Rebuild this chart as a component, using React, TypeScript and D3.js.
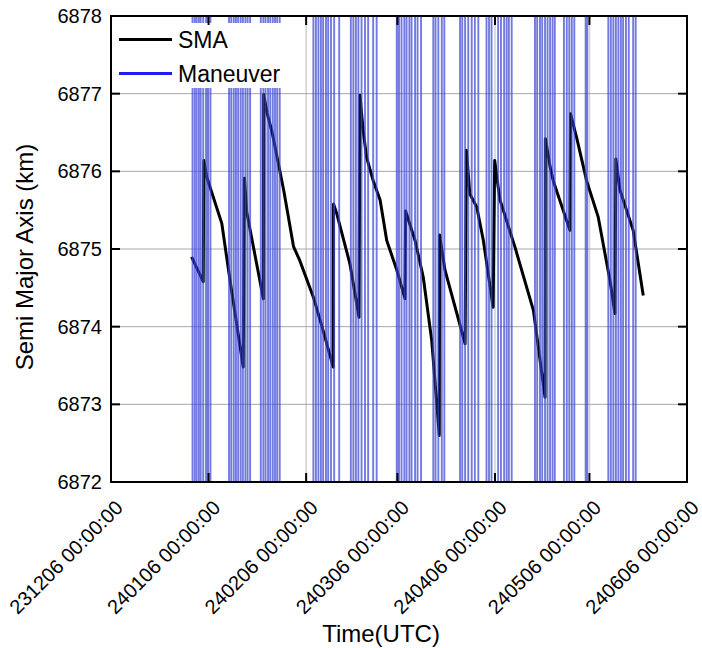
import React from 'react';
import * as d3 from 'd3';

// days counted from 231206 00:00:00 UTC
const startDate = '2023-12-06';
const xTickLabels = ['231206', '240106', '240206', '240306', '240406', '240506', '240606'];
const yTicks = [6872, 6873, 6874, 6875, 6876, 6877, 6878];

const maneuverDays = [
  25.9, 26.6, 27.2, 27.9, 28.5, 29.3, 30.2, 30.8, 31.6,
  37.5, 38.2, 39.0, 39.7, 40.4, 41.2, 41.9, 42.7, 43.4, 44.2,
  47.6, 48.4, 49.1, 49.9, 50.6, 51.4, 52.1, 52.8, 53.6,
  64.3, 65.1, 65.9, 66.7, 67.4, 68.3, 69.0, 69.9, 70.9, 72.5,
  76.2, 77.0, 77.8, 78.6, 79.6, 80.7, 81.7, 83.3, 84.4,
  90.8, 91.5, 92.3, 93.2, 93.9, 94.8, 95.5, 96.6, 97.4, 98.5,
  102.4, 103.1, 104.0, 105.1, 105.9,
  110.9, 111.6, 112.5, 113.5, 114.6, 115.6, 116.7,
  119.3, 120.1, 120.9, 123.0, 123.9, 124.9, 125.7, 126.4, 127.3,
  134.7, 135.4, 136.3, 137.0, 137.9, 138.7, 139.5, 140.3, 141.0,
  143.9, 144.8, 145.6, 146.4, 147.2,
  150.8, 151.3,
  158.0, 158.8, 159.6, 160.4, 161.2, 162.0, 162.7, 163.6, 164.5, 165.9, 166.7,
];

const smaDays = [
  25.6, 29.3, 29.5, 30.4, 35.2, 37.8, 42.0, 42.4, 43.1, 48.4,
  48.5, 49.6, 51.2, 54.9, 58.0, 60.0, 64.3, 67.4, 70.6, 70.7,
  71.7, 75.9, 78.8, 79.1, 80.1, 81.2, 83.3, 85.5, 87.6, 90.8,
  93.4, 93.6, 96.6, 99.2, 101.9, 104.3, 104.4, 106.1, 112.5, 112.9,
  114.0, 116.2, 118.3, 121.4, 121.9, 123.0, 123.6, 128.3, 134.2, 137.9,
  138.0, 139.5, 140.5, 145.8, 146.0, 147.9, 151.1, 154.8, 158.5, 160.1,
  160.4, 161.7, 165.9, 169.1,
];
const smaValues = [
  6874.90, 6874.58, 6876.14, 6875.93, 6875.33, 6874.60, 6873.48, 6875.91, 6875.48, 6874.36,
  6876.99, 6876.75, 6876.50, 6875.75, 6875.03, 6874.85, 6874.38, 6873.95, 6873.48, 6875.58,
  6875.46, 6874.81, 6874.12, 6876.98, 6876.53, 6876.18, 6875.88, 6875.63, 6875.11, 6874.73,
  6874.36, 6875.49, 6875.11, 6874.64, 6873.82, 6872.60, 6875.18, 6874.73, 6873.78, 6876.27,
  6875.71, 6875.54, 6875.11, 6874.25, 6876.14, 6875.80, 6875.63, 6875.03, 6874.21, 6873.09,
  6876.42, 6876.06, 6875.88, 6875.24, 6876.74, 6876.44, 6875.88, 6875.41, 6874.60, 6874.17,
  6876.16, 6875.76, 6875.24, 6874.40,
];

const font = '"Liberation Sans", Arial, sans-serif';

const App: React.FC = () => {
  const W = 702;
  const H = 648;
  const margin = { left: 111, top: 16, right: 15, bottom: 166 };
  const x0 = margin.left;
  const x1 = W - margin.right;
  const y0 = margin.top;
  const y1 = H - margin.bottom;

  const parseTick = d3.utcParse('%y%m%d');
  const start = d3.utcParse('%Y-%m-%d')(startDate) as Date;
  const dayToDate = (d: number) => new Date(start.getTime() + d * 86400000);
  const tickDates = xTickLabels.map(t => parseTick(t) as Date);

  const xScale = d3.scaleUtc()
    .domain([tickDates[0], tickDates[tickDates.length - 1]])
    .range([x0, x1]);
  const yScale = d3.scaleLinear().domain([6872, 6878]).range([y1, y0]);

  const smaData = smaDays.map((d, i) => ({ date: dayToDate(d), v: smaValues[i] }));
  const line = d3.line<{ date: Date; v: number }>()
    .x(d => xScale(d.date))
    .y(d => yScale(d.v));

  const tickLen = 9;

  return (
    <svg width={W} height={H} style={{ position: 'absolute', left: 0, top: 0, background: '#fff' }}>
      {/* grid */}
      {tickDates.slice(1, -1).map((d, i) => (
        <line key={'gx' + i} x1={xScale(d)} x2={xScale(d)} y1={y0} y2={y1} stroke="#cfcfcf" strokeWidth={1.5} />
      ))}
      {yTicks.slice(1, -1).map(v => (
        <line key={'gy' + v} x1={x0} x2={x1} y1={yScale(v)} y2={yScale(v)} stroke="#a8a8a8" strokeWidth={1} />
      ))}

      {/* SMA */}
      <path d={line(smaData) || ''} fill="none" stroke="#000" strokeWidth={3} strokeLinejoin="round" />

      {/* maneuvers */}
      {maneuverDays.map((d, i) => {
        const x = xScale(dayToDate(d));
        return <line key={'m' + i} x1={x} x2={x} y1={y0} y2={y1} stroke="#3c46d2" strokeOpacity={0.72} strokeWidth={1.9} />;
      })}

      {/* legend */}
      <rect x={112} y={23} width={174} height={65} fill="#fff" />
      <line x1={119} x2={172} y1={39.5} y2={39.5} stroke="#000" strokeWidth={3} />
      <text x={178} y={48} fontFamily={font} fontSize={23} fill="#000">SMA</text>
      <line x1={119} x2={172} y1={73.5} y2={73.5} stroke="#1e1ef0" strokeWidth={3} />
      <text x={178} y={82} fontFamily={font} fontSize={23} fill="#000">Maneuver</text>

      {/* frame */}
      <rect x={x0} y={y0} width={x1 - x0} height={y1 - y0} fill="none" stroke="#000" strokeWidth={2} />

      {/* x ticks */}
      {tickDates.map((d, i) => {
        const x = xScale(d);
        return (
          <g key={'xt' + i}>
            <line x1={x} x2={x} y1={y1} y2={y1 - tickLen} stroke="#000" strokeWidth={2} />
            <line x1={x} x2={x} y1={y0} y2={y0 + tickLen} stroke="#000" strokeWidth={2} />
            <text
              transform={`translate(${x + 13},${y1 + 27}) rotate(-45)`}
              textAnchor="end"
              fontFamily={font}
              fontSize={20}
              fill="#000"
            >
              {xTickLabels[i] + ' 00:00:00'}
            </text>
          </g>
        );
      })}

      {/* y ticks */}
      {yTicks.map(v => {
        const y = yScale(v);
        return (
          <g key={'yt' + v}>
            <line x1={x0} x2={x0 + tickLen} y1={y} y2={y} stroke="#000" strokeWidth={2} />
            <line x1={x1} x2={x1 - tickLen} y1={y} y2={y} stroke="#000" strokeWidth={2} />
            <text x={102} y={y} dy="0.35em" textAnchor="end" fontFamily={font} fontSize={20} fill="#000">
              {v}
            </text>
          </g>
        );
      })}

      {/* axis titles */}
      <text x={381} y={642} textAnchor="middle" fontFamily={font} fontSize={24} fill="#000">Time(UTC)</text>
      <text
        transform={`translate(33,${(y0 + y1) / 2 + 8}) rotate(-90)`}
        textAnchor="middle"
        fontFamily={font}
        fontSize={24}
        fill="#000"
      >
        Semi Major Axis (km)
      </text>
    </svg>
  );
};

export default App;
